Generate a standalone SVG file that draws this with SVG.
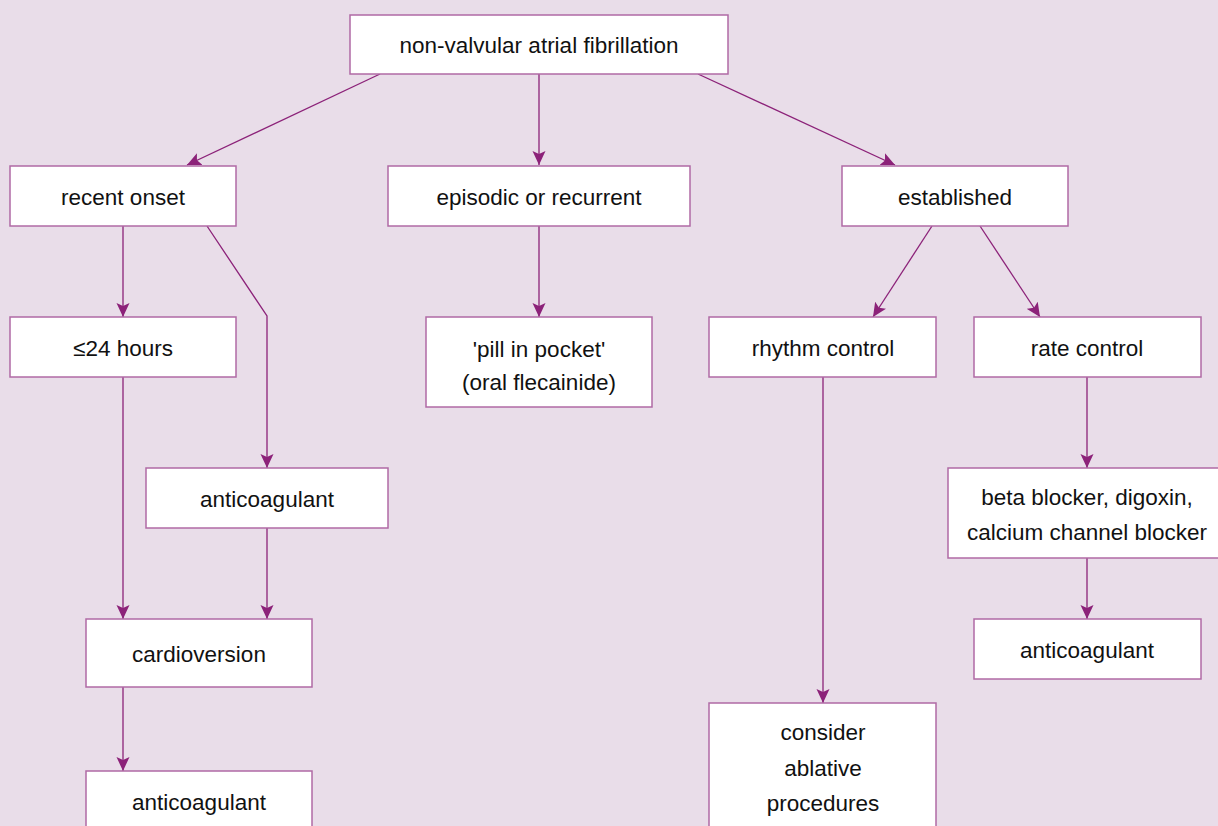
<svg xmlns="http://www.w3.org/2000/svg" width="1218" height="826" viewBox="0 0 1218 826">
<defs>
<marker id="ah" markerUnits="userSpaceOnUse" markerWidth="14" markerHeight="14" viewBox="0 0 14 14" refX="14" refY="7" orient="auto">
<path d="M0,0.5 L14,7 L0,13.5 L3,7 Z" fill="#8C2279"/>
</marker>
<style>
.box{fill:#fff;stroke:#B06AA5;stroke-width:1.5}
.t{font-family:"Liberation Sans",Arial,sans-serif;font-size:22.5px;fill:#111;text-anchor:middle}
.c{fill:none;stroke:#8C2279;stroke-width:1.3}
.a{marker-end:url(#ah)}
</style>
</defs>
<rect width="1218" height="826" fill="#E9DDE9"/>
<g id="connectors">
<line class="c a" x1="380" y1="74" x2="187" y2="165"/>
<line class="c a" x1="539" y1="74" x2="539" y2="165"/>
<line class="c a" x1="698" y1="74" x2="895" y2="165"/>
<line class="c a" x1="123" y1="226" x2="123" y2="317"/>
<polyline class="c a" points="207,226 267,316 267,468"/>
<line class="c a" x1="539" y1="226" x2="539" y2="317"/>
<line class="c a" x1="932" y1="226" x2="873" y2="317"/>
<line class="c a" x1="980" y1="226" x2="1040" y2="317"/>
<line class="c a" x1="123" y1="377" x2="123" y2="619"/>
<line class="c a" x1="267" y1="528" x2="267" y2="619"/>
<line class="c a" x1="123" y1="687" x2="123" y2="771"/>
<line class="c a" x1="823" y1="377" x2="823" y2="703"/>
<line class="c a" x1="1087" y1="377" x2="1087" y2="468"/>
<line class="c a" x1="1087" y1="558" x2="1087" y2="619"/>
</g>
<g id="n-af"><rect class="box" x="350" y="15" width="378" height="59"/><text class="t" x="539" y="53">non-valvular atrial fibrillation</text></g>
<g id="n-recent"><rect class="box" x="10" y="166" width="226" height="60"/><text class="t" x="123" y="205">recent onset</text></g>
<g id="n-episodic"><rect class="box" x="388" y="166" width="302" height="60"/><text class="t" x="539" y="205">episodic or recurrent</text></g>
<g id="n-established"><rect class="box" x="842" y="166" width="226" height="60"/><text class="t" x="955" y="205">established</text></g>
<g id="n-24h"><rect class="box" x="10" y="317" width="226" height="60"/><text class="t" x="123" y="356">≤24 hours</text></g>
<g id="n-pill"><rect class="box" x="426" y="317" width="226" height="90"/><text class="t" x="539" y="357">'pill in pocket'</text><text class="t" x="539" y="390">(oral flecainide)</text></g>
<g id="n-rhythm"><rect class="box" x="709" y="317" width="227" height="60"/><text class="t" x="823" y="356">rhythm control</text></g>
<g id="n-rate"><rect class="box" x="974" y="317" width="227" height="60"/><text class="t" x="1087" y="356">rate control</text></g>
<g id="n-anticoag1"><rect class="box" x="146" y="468" width="242" height="60"/><text class="t" x="267" y="507">anticoagulant</text></g>
<g id="n-drugs"><rect class="box" x="948" y="468" width="276" height="90"/><text class="t" x="1087" y="505">beta blocker, digoxin,</text><text class="t" x="1087" y="540">calcium channel blocker</text></g>
<g id="n-cardioversion"><rect class="box" x="86" y="619" width="226" height="68"/><text class="t" x="199" y="662">cardioversion</text></g>
<g id="n-anticoag3"><rect class="box" x="974" y="619" width="227" height="60"/><text class="t" x="1087" y="658">anticoagulant</text></g>
<g id="n-ablative"><rect class="box" x="709" y="703" width="227" height="140"/><text class="t" x="823" y="740">consider</text><text class="t" x="823" y="776">ablative</text><text class="t" x="823" y="811">procedures</text></g>
<g id="n-anticoag2"><rect class="box" x="86" y="771" width="226" height="70"/><text class="t" x="199" y="810">anticoagulant</text></g>
</svg>
